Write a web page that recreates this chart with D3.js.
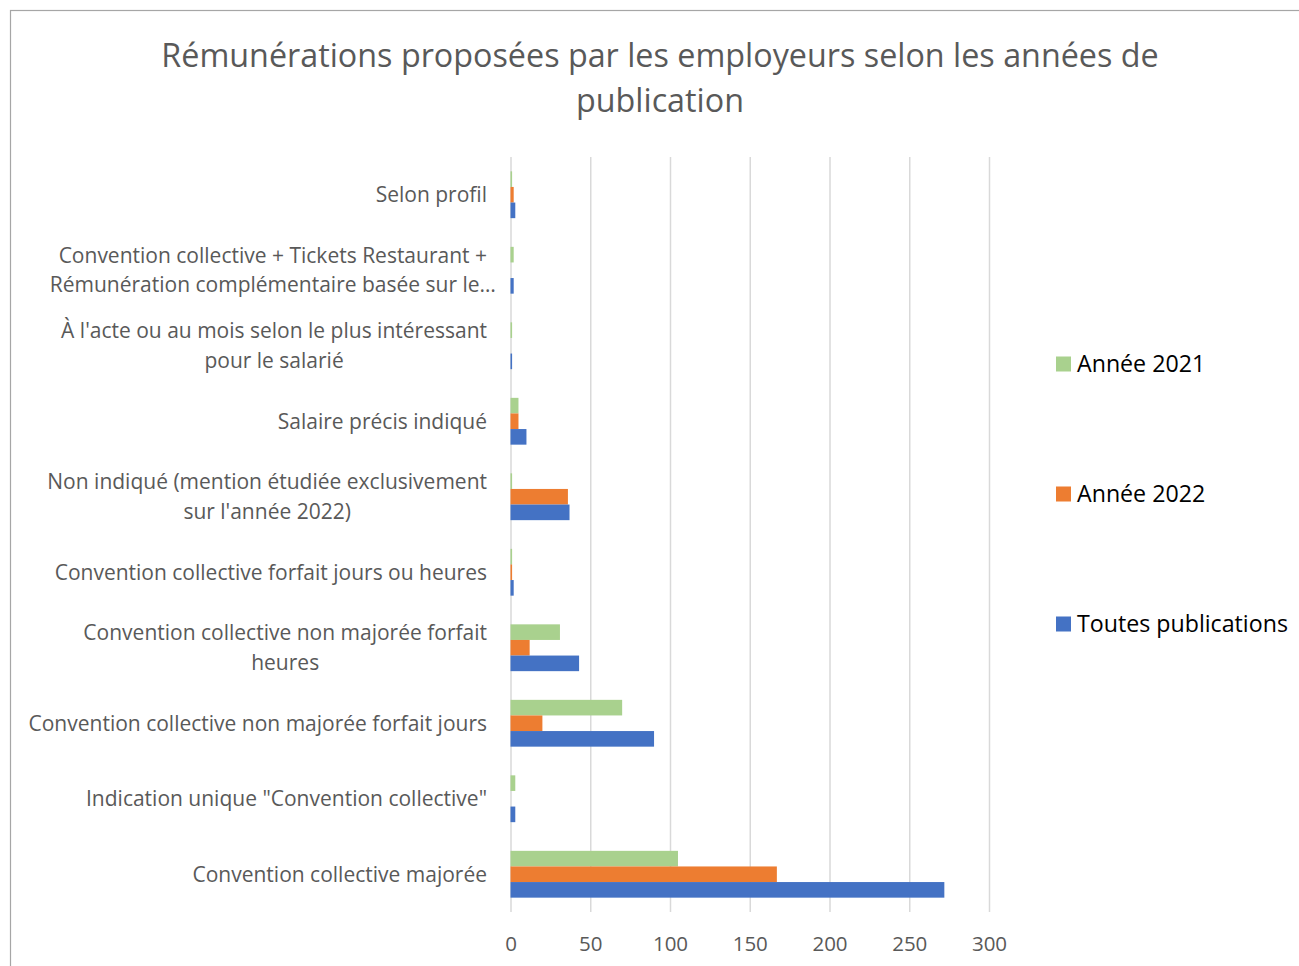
<!DOCTYPE html>
<html>
<head>
<meta charset="utf-8">
<script src="https://cdn.jsdelivr.net/npm/d3@7"></script>
<style>
  html, body { margin: 0; padding: 0; background: #fff; }
  svg { display: block; font-family: "Open Sans", Lato, sans-serif; }
</style>
</head>
<body>
<svg id="chart" width="1299" height="966"></svg>
<script>
// Categories, top to bottom as displayed
const categories = [
  ["Selon profil"],
  ["Convention collective + Tickets Restaurant +", "Rémunération complémentaire basée sur le…"],
  ["À l'acte ou au mois selon le plus intéressant", "pour le salarié"],
  ["Salaire précis indiqué"],
  ["Non indiqué (mention étudiée exclusivement", "sur l'année 2022)"],
  ["Convention collective forfait jours ou heures"],
  ["Convention collective non majorée forfait", "heures"],
  ["Convention collective non majorée forfait jours"],
  ["Indication unique \"Convention collective\""],
  ["Convention collective majorée"]
];
const annee2021 = [1, 2, 1, 5, 1, 1, 31, 70, 3, 105];
const annee2022 = [2, 0, 0, 5, 36, 1, 12, 20, 0, 167];
const toutes    = [3, 2, 1, 10, 37, 2, 43, 90, 3, 272];
const seriesNames = ["Année 2021", "Année 2022", "Toutes publications"];
const seriesColors = ["#a9d18e", "#ed7d31", "#4472c4"];
const xTicks = [0, 50, 100, 150, 200, 250, 300];
const titleLines = ["Rémunérations proposées par les employeurs selon les années de", "publication"];

const series = [annee2021, annee2022, toutes];
const svg = d3.select("#chart");

// frame
svg.append("rect").attr("x", 10.5).attr("y", 10.5).attr("width", 1400).attr("height", 1000)
  .attr("fill", "#fff").attr("stroke", "#a6a6a6").attr("stroke-width", 1.2);

// title
svg.append("g").selectAll("text").data(titleLines).join("text")
  .attr("x", 660).attr("y", (d, i) => 67 + i * 45)
  .attr("text-anchor", "middle").attr("fill", "#595959")
  .attr("font-size", 32.3).text(d => d);

const plot = { left: 510.5, right: 989, top: 157, bottom: 912 };
const x = d3.scaleLinear().domain([0, 300]).range([plot.left, plot.right]);
const y = d3.scaleBand().domain(d3.range(categories.length)).range([plot.top, plot.bottom]).paddingInner(0.38).paddingOuter(0.19);
const ySub = d3.scaleBand().domain(d3.range(series.length)).range([0, y.bandwidth()]);

// gridlines via axis
const gx = svg.append("g").attr("transform", `translate(0,${plot.bottom})`)
  .call(d3.axisBottom(x).tickValues(xTicks).tickSize(-(plot.bottom - plot.top)).tickPadding(24));
gx.select(".domain").remove();
gx.selectAll(".tick line").attr("stroke", "#d9d9d9").attr("stroke-width", 1.5);
gx.selectAll(".tick text").attr("fill", "#595959").attr("font-size", 20.5)
  .attr("font-family", "'Open Sans', Lato, sans-serif").attr("dy", "0.71em");

// bars
const groups = svg.append("g").selectAll("g").data(categories).join("g")
  .attr("transform", (d, i) => `translate(0,${y(i)})`);
groups.selectAll("rect").data((d, i) => series.map((s, k) => ({ k, v: s[i] }))).join("rect")
  .attr("x", x(0))
  .attr("y", d => ySub(d.k))
  .attr("width", d => x(d.v) - x(0))
  .attr("height", ySub.bandwidth())
  .attr("fill", d => seriesColors[d.k]);

// category labels
const labelRight = 487;
const lineH = 29.5;
categories.forEach((lines, i) => {
  const cy = y(i) + y.bandwidth() / 2;
  const g = svg.append("g");
  const texts = lines.map((t, j) => g.append("text")
    .attr("font-size", 21).attr("fill", "#595959")
    .attr("y", cy + (j - (lines.length - 1) / 2) * lineH)
    .attr("dy", "0.35em").text(t));
  const widths = texts.map(t => t.node().getComputedTextLength());
  const maxW = widths[0];
  const center = labelRight - maxW / 2;
  texts.forEach(t => t.attr("x", center).attr("text-anchor", "middle"));
});

// legend
const legY = [364, 494, 624];
const leg = svg.append("g").selectAll("g").data(seriesNames).join("g")
  .attr("transform", (d, i) => `translate(1056,${legY[i]})`);
leg.append("rect").attr("x", 0).attr("y", -7.5).attr("width", 15).attr("height", 15)
  .attr("fill", (d, i) => seriesColors[i]);
leg.append("text").attr("x", 21).attr("y", 0).attr("dy", "0.35em")
  .attr("font-size", 23.2).attr("fill", "#000").text(d => d);
</script>
</body>
</html>
